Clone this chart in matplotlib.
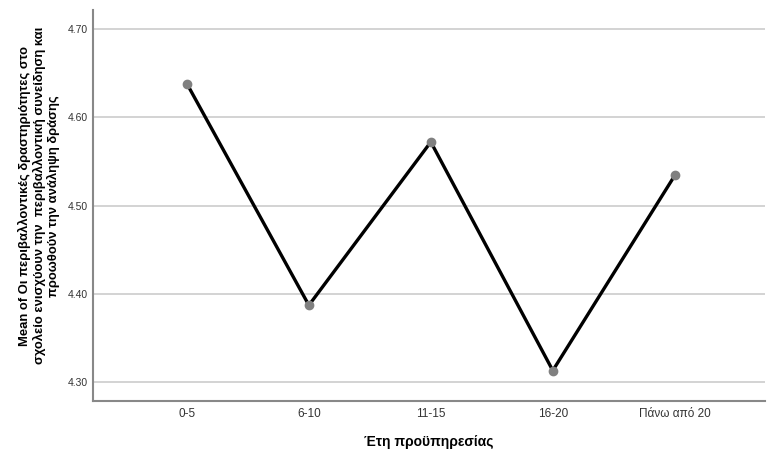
import matplotlib
matplotlib.use("Agg")
import matplotlib.pyplot as plt

categories = ["0-5", "6-10", "11-15", "16-20", "Πάνω από 20"]
means = [4.638, 4.387, 4.572, 4.313, 4.534]
yticks = [4.30, 4.40, 4.50, 4.60, 4.70]

plt.rcParams['font.family'] = ['Liberation Sans', 'DejaVu Sans']

fig = plt.figure(figsize=(7.67, 4.55), dpi=100)
ax = fig.add_axes([93/767, 1-401/455, (765-93)/767, (401-10)/455])

x = list(range(len(categories)))
ax.plot(x, means, color='black', lw=2.4, zorder=3)
ax.plot(x, means, 'o', color='#808080', ms=6, mec='#808080', zorder=4)

ax.set_xlim(-0.77, 4.74)
ax.set_ylim(4.2785, 4.7215)
ax.set_yticks(yticks)
ax.set_yticklabels([f"{v:.2f}" for v in yticks], fontsize=7.5, color='#333333')
ax.set_xticks(x)
ax.set_xticklabels(categories, fontsize=8.5, color='#333333')
ax.tick_params(axis='both', length=0)
ax.tick_params(axis='x', pad=5)
ax.tick_params(axis='y', pad=4)

ax.grid(axis='y', color='#cccccc', lw=1.2, zorder=0)
ax.set_axisbelow(True)
for s in ['top', 'right']:
    ax.spines[s].set_visible(False)
for s in ['left', 'bottom']:
    ax.spines[s].set_color('#888888')
    ax.spines[s].set_linewidth(1.5)

ax.set_xlabel("Έτη προϋπηρεσίας", fontsize=10, fontweight='bold', labelpad=11)
ax.set_ylabel("Mean of Οι περιβαλλοντικές δραστηριότητες στο\n"
              "σχολείο ενισχύουν την  περιβαλλοντική συνείδηση και\n"
              "προωθούν την ανάληψη δράσης",
              fontsize=9.4, fontweight='bold', linespacing=1.15)
ax.yaxis.set_label_coords(-0.049, 0.525)

fig.savefig("out.png", dpi=100)
